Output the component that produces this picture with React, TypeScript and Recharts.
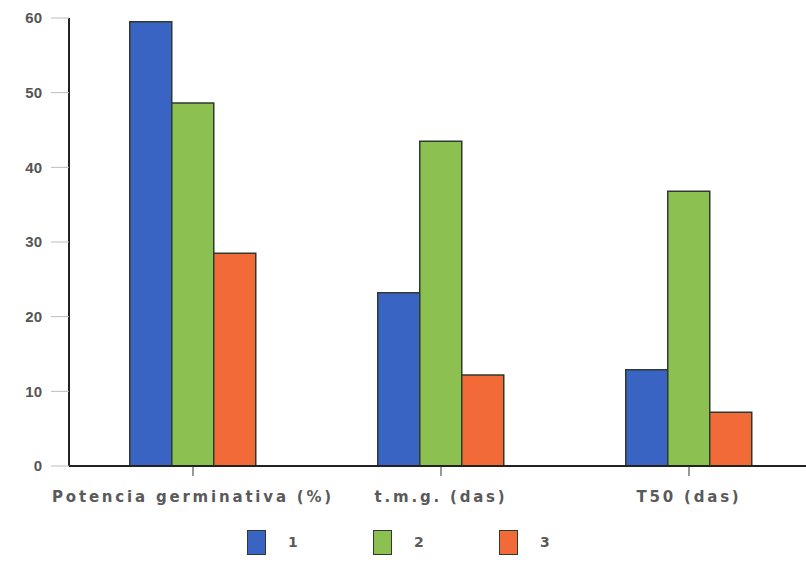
import { BarChart, Bar, XAxis, YAxis, Legend } from 'recharts'

const categories = ['Potencia germinativa (%)', 't.m.g. (das)', 'T50 (das)']
const serie1 = [59.5, 23.2, 12.9]
const serie2 = [48.6, 43.5, 36.8]
const serie3 = [28.5, 12.2, 7.2]
const yTicks = [0, 10, 20, 30, 40, 50, 60]

const seriesInfo = [
  { key: 's1', name: '1', color: '#3a64c4' },
  { key: 's2', name: '2', color: '#8cc152' },
  { key: 's3', name: '3', color: '#f26a38' },
]

const data = categories.map((c, i) => ({
  cat: c,
  s1: serie1[i],
  s2: serie2[i],
  s3: serie3[i],
}))

const font = '"Liberation Sans", Arial, sans-serif'
const wideFont = '"DejaVu Sans", sans-serif'

function LegendBoxes() {
  return (
    <div style={{ display: 'flex', justifyContent: 'flex-start', paddingLeft: 247, height: 40, alignItems: 'center', paddingTop: 6 }}>
      {seriesInfo.map((s) => (
        <div key={s.key} style={{ display: 'flex', alignItems: 'center', width: 126 }}>
          <span
            style={{
              width: 17,
              height: 23,
              background: s.color,
              border: '1.5px solid #2e3a2e',
              display: 'inline-block',
            }}
          />
          <span style={{ marginLeft: 22, fontFamily: wideFont, fontSize: 14, color: '#5a5a5a', fontWeight: 'bold' }}>
            {s.name}
          </span>
        </div>
      ))}
    </div>
  )
}

export default function App() {
  return (
    <div style={{ position: 'absolute', left: 0, top: 0, width: 806, height: 587, overflow: 'hidden', background: '#fff' }}>
      <BarChart
        width={813}
        height={587}
        data={data}
        margin={{ top: 18, right: 0, left: 0, bottom: 31 }}
        barCategoryGap="24.5%"
        barGap={0}
      >
        <XAxis
          dataKey="cat"
          height={50}
          axisLine={{ stroke: '#222', strokeWidth: 2 }}
          tickLine={{ stroke: '#333' }}
          tickSize={10}
          tickMargin={15}
          tick={{ fontFamily: wideFont, fontSize: 15, fill: '#5a5a5a', letterSpacing: 2.8, fontWeight: 'bold' }}
          interval={0}
        />
        <YAxis
          width={69}
          domain={[0, 60]}
          ticks={yTicks}
          axisLine={{ stroke: '#222', strokeWidth: 2 }}
          tickLine={{ stroke: '#bbb' }}
          tickSize={18}
          tickMargin={9}
          tick={{ fontFamily: font, fontSize: 15, fill: '#555', fontWeight: 600 }}
        />
        <Legend content={<LegendBoxes />} verticalAlign="bottom" wrapperStyle={{ height: 40 }} />
        {seriesInfo.map((s) => (
          <Bar
            key={s.key}
            dataKey={s.key}
            name={s.name}
            fill={s.color}
            stroke="#2e3a2e"
            strokeWidth={1.5}
            isAnimationActive={false}
          />
        ))}
      </BarChart>
    </div>
  )
}
